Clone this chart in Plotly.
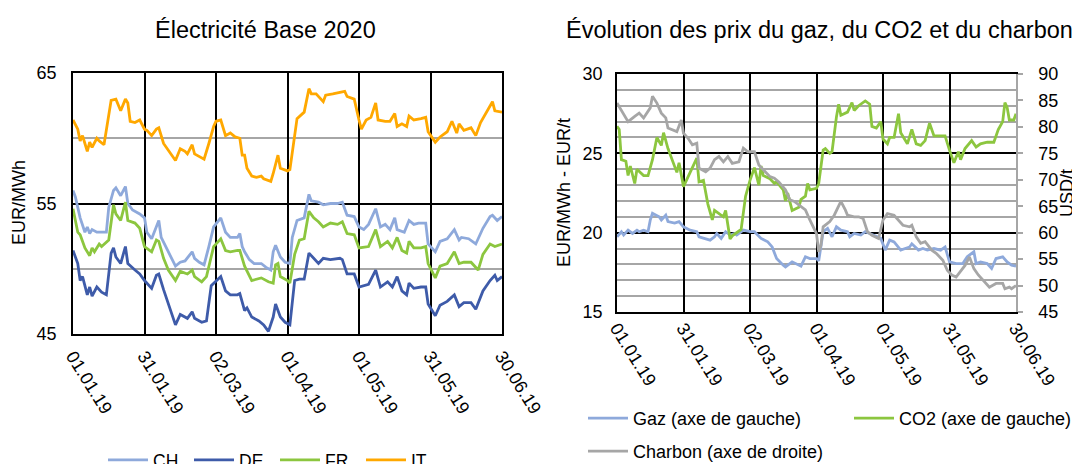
import pandas as pd
import plotly.graph_objects as go

START = pd.Timestamp("2019-01-01")

# ---------------- Left chart: Électricité Base 2020 (EUR/MWh) ----------------
IT_days = [0, 2, 3, 4, 5, 6, 7, 8, 10, 11, 13, 15, 16, 18, 20, 22, 23, 24, 26, 28, 30, 31, 33, 35, 36, 38, 40, 43, 45, 47, 48, 50, 51, 53, 55, 57, 59, 60, 62, 64, 66, 68, 70, 71, 72, 73, 75, 77, 79, 80, 83, 84, 86, 87, 90, 91, 93, 94, 97, 99, 100, 102, 105, 106, 109, 112, 114, 115, 118, 120, 121, 123, 125, 127, 128, 131, 133, 135, 136, 138, 140, 141, 143, 146, 148, 149, 152, 154, 157, 159, 161, 162, 164, 167, 169, 171, 174, 176, 177, 180]
IT_vals = [61.4, 60.7, 59.8, 60.2, 59.6, 59.0, 59.7, 59.3, 60.0, 59.8, 59.5, 61.6, 62.9, 63.0, 62.1, 63.0, 62.7, 61.3, 61.2, 61.4, 60.7, 60.6, 60.2, 60.7, 60.8, 59.6, 59.1, 58.3, 59.2, 59.0, 58.8, 59.5, 58.8, 58.6, 58.4, 59.6, 60.9, 61.3, 61.4, 60.2, 60.4, 60.1, 60.0, 58.7, 58.7, 57.7, 57.1, 57.0, 57.1, 56.9, 56.7, 57.3, 58.7, 57.7, 57.5, 57.6, 60.1, 61.5, 62.0, 63.8, 63.4, 63.4, 62.8, 63.3, 63.4, 63.5, 63.6, 63.2, 63.0, 61.4, 60.7, 61.4, 61.6, 62.7, 61.4, 61.3, 61.3, 61.9, 60.9, 61.1, 60.9, 61.7, 61.4, 61.5, 61.6, 60.5, 59.7, 60.1, 60.5, 61.3, 60.4, 61.1, 60.6, 60.8, 60.2, 61.2, 62.1, 62.8, 62.1, 62.0]

CH_days = [0, 1, 3, 5, 6, 7, 8, 10, 12, 14, 15, 17, 18, 20, 22, 23, 25, 28, 30, 31, 33, 36, 37, 39, 41, 43, 45, 47, 50, 51, 53, 55, 57, 59, 62, 64, 66, 69, 70, 71, 72, 74, 76, 79, 81, 83, 84, 85, 87, 89, 91, 92, 94, 97, 99, 100, 103, 105, 108, 111, 113, 115, 118, 120, 122, 124, 127, 129, 131, 133, 135, 136, 139, 141, 143, 145, 148, 149, 152, 154, 157, 160, 162, 163, 166, 169, 172, 175, 176, 178, 180]
CH_vals = [56.0, 55.5, 53.9, 52.8, 53.2, 52.7, 53.0, 52.8, 52.8, 52.8, 54.7, 56.0, 56.2, 55.6, 56.3, 55.0, 54.5, 54.2, 53.9, 52.8, 52.3, 53.7, 52.4, 51.7, 50.9, 50.2, 50.5, 50.6, 51.3, 50.8, 50.5, 50.3, 51.7, 53.2, 53.9, 52.8, 52.4, 52.4, 52.7, 51.7, 51.3, 50.7, 50.4, 50.4, 50.1, 49.9, 51.3, 51.8, 50.9, 50.5, 50.4, 52.4, 53.7, 53.9, 55.7, 55.2, 55.1, 54.9, 55.0, 55.0, 55.1, 54.1, 54.0, 53.2, 53.0, 53.4, 54.6, 53.2, 53.4, 53.0, 53.9, 53.0, 52.8, 53.7, 53.4, 53.5, 53.5, 51.9, 51.3, 52.1, 52.3, 53.0, 52.2, 52.4, 52.3, 51.9, 53.1, 54.0, 54.1, 53.7, 54.0]

FR_days = [0, 2, 3, 5, 7, 8, 9, 11, 12, 15, 17, 18, 20, 22, 23, 26, 28, 30, 33, 35, 36, 38, 40, 43, 45, 48, 50, 51, 54, 56, 59, 62, 64, 66, 69, 70, 72, 73, 75, 79, 82, 84, 85, 86, 87, 90, 91, 93, 95, 97, 99, 101, 103, 105, 108, 111, 113, 115, 118, 120, 124, 127, 129, 132, 134, 136, 138, 140, 141, 143, 146, 148, 149, 152, 154, 157, 160, 162, 164, 167, 170, 172, 175, 177, 180]
FR_vals = [54.6, 52.8, 52.6, 51.6, 51.0, 51.6, 51.3, 51.9, 51.7, 52.2, 54.9, 54.2, 53.7, 55.1, 53.7, 53.5, 53.1, 51.7, 51.3, 52.2, 52.1, 50.8, 49.9, 49.1, 49.8, 49.6, 49.9, 49.4, 49.0, 49.4, 51.7, 52.3, 51.4, 51.3, 51.4, 51.4, 50.2, 49.8, 49.1, 49.3, 49.0, 48.9, 50.3, 50.4, 49.4, 49.1, 48.9, 51.1, 52.2, 52.3, 54.4, 53.9, 53.6, 53.2, 53.5, 53.4, 53.6, 52.7, 52.6, 51.6, 51.7, 53.0, 51.7, 52.1, 51.6, 52.4, 51.4, 51.2, 52.1, 51.6, 51.6, 51.7, 50.4, 49.3, 50.2, 50.4, 51.3, 50.4, 50.5, 50.5, 49.9, 51.1, 51.9, 51.7, 51.9]

DE_days = [0, 2, 3, 4, 6, 7, 8, 10, 12, 14, 16, 17, 18, 20, 22, 23, 26, 28, 30, 33, 35, 36, 38, 40, 41, 43, 45, 48, 50, 51, 54, 56, 58, 62, 64, 66, 69, 70, 72, 73, 75, 78, 80, 82, 84, 85, 87, 89, 91, 93, 95, 97, 99, 101, 103, 105, 108, 112, 113, 115, 118, 120, 124, 127, 129, 132, 134, 136, 138, 140, 141, 143, 146, 148, 149, 152, 154, 157, 160, 162, 164, 167, 169, 172, 175, 177, 178, 180]
DE_vals = [51.4, 50.4, 49.1, 49.4, 48.0, 48.6, 47.9, 48.6, 48.2, 48.0, 51.2, 51.6, 50.9, 50.4, 51.7, 50.4, 49.9, 49.6, 49.1, 48.5, 49.5, 49.6, 48.4, 47.3, 46.7, 45.7, 46.5, 46.2, 46.7, 46.2, 45.9, 46.0, 48.7, 49.4, 48.3, 48.0, 48.0, 48.1, 46.8, 47.0, 46.3, 46.0, 45.7, 45.2, 46.3, 47.3, 46.3, 45.9, 45.7, 49.1, 49.2, 49.2, 51.2, 50.8, 50.4, 50.8, 50.7, 50.8, 50.7, 49.6, 49.6, 48.6, 48.8, 49.9, 48.6, 49.0, 48.6, 49.4, 48.3, 48.0, 48.9, 48.5, 48.6, 48.6, 47.3, 46.4, 47.2, 47.5, 48.0, 47.1, 47.4, 47.4, 46.9, 48.3, 49.1, 49.5, 49.1, 49.4]

# ---------------- Right chart: gaz, CO2 (left axis), charbon (right axis) ----------------
GAZ_days = [0, 2, 3, 5, 7, 9, 10, 12, 14, 15, 16, 19, 20, 22, 23, 26, 28, 30, 33, 36, 37, 40, 42, 44, 45, 47, 49, 51, 53, 54, 57, 60, 62, 65, 68, 70, 72, 75, 76, 79, 81, 83, 85, 87, 90, 91, 93, 95, 97, 99, 101, 104, 105, 107, 110, 112, 114, 117, 119, 121, 123, 125, 128, 132, 133, 136, 138, 140, 143, 146, 148, 150, 153, 156, 158, 161, 162, 164, 167, 169, 171, 174, 176, 178, 180]
GAZ_vals = [19.74, 20.06, 19.85, 20.16, 19.95, 20.16, 20.06, 20.16, 20.06, 20.79, 21.22, 21.0, 20.8, 21.1, 20.7, 20.6, 20.7, 20.37, 20.16, 20.06, 19.74, 19.64, 19.53, 19.74, 19.95, 19.64, 20.06, 19.85, 19.95, 19.85, 20.16, 20.06, 20.06, 19.64, 19.42, 19.1, 18.37, 17.95, 17.84, 18.16, 18.05, 17.89, 18.48, 18.37, 18.37, 18.22, 20.06, 20.27, 19.74, 20.37, 20.16, 20.06, 19.74, 19.95, 19.85, 20.06, 19.95, 19.74, 19.64, 18.9, 19.53, 19.42, 18.9, 19.1, 19.3, 18.9, 19.0, 18.9, 19.0, 18.9, 19.1, 18.16, 18.05, 18.05, 18.48, 18.8, 18.05, 18.16, 18.05, 17.74, 18.37, 18.48, 18.16, 17.95, 17.89]

CO2_days = [0, 1, 2, 4, 5, 6, 8, 9, 12, 14, 16, 18, 20, 21, 23, 25, 27, 28, 30, 32, 34, 36, 37, 39, 41, 43, 44, 46, 48, 49, 51, 52, 55, 56, 58, 60, 62, 64, 65, 66, 69, 71, 72, 75, 76, 77, 79, 82, 83, 85, 86, 87, 90, 91, 93, 94, 96, 97, 99, 100, 101, 104, 106, 107, 109, 112, 114, 115, 117, 119, 120, 122, 123, 125, 127, 128, 131, 133, 135, 137, 139, 141, 143, 145, 148, 150, 152, 154, 155, 157, 160, 162, 164, 167, 170, 172, 174, 175, 176, 177, 179, 180]
CO2_vals = [26.7, 26.5, 24.6, 24.5, 23.6, 24.2, 23.1, 24.0, 23.6, 23.6, 24.6, 26.0, 25.5, 26.3, 25.3, 24.6, 23.8, 24.4, 22.9, 23.5, 24.1, 24.7, 23.2, 23.3, 21.8, 20.8, 21.4, 21.2, 21.0, 21.4, 19.6, 19.8, 20.1, 20.2, 22.3, 23.3, 24.1, 23.0, 24.2, 23.6, 23.4, 23.1, 23.2, 22.7, 22.0, 22.5, 21.4, 21.6, 22.1, 22.3, 23.1, 22.7, 22.8, 23.1, 25.2, 25.3, 25.0, 25.1, 27.3, 28.1, 27.4, 27.6, 28.2, 27.7, 28.0, 28.3, 28.1, 26.7, 26.6, 27.0, 25.9, 25.6, 26.0, 26.0, 27.5, 26.3, 25.6, 26.5, 25.6, 25.5, 25.8, 26.9, 26.1, 26.1, 26.1, 25.2, 24.4, 25.1, 24.6, 25.3, 25.8, 25.4, 25.6, 25.7, 25.7, 26.5, 27.0, 28.2, 27.9, 27.1, 27.1, 27.5]

CHARBON_days = [0, 2, 5, 8, 10, 12, 15, 16, 18, 20, 22, 23, 25, 27, 29, 30, 32, 34, 36, 37, 40, 42, 44, 46, 48, 50, 52, 55, 57, 59, 62, 64, 66, 69, 71, 73, 76, 78, 80, 83, 85, 87, 90, 91, 92, 93, 96, 98, 101, 103, 104, 107, 109, 111, 113, 115, 118, 120, 122, 125, 127, 129, 132, 133, 135, 137, 139, 142, 144, 147, 149, 151, 153, 155, 157, 159, 161, 163, 165, 168, 171, 174, 175, 177, 178, 180]
CHARBON_vals = [84.5, 83.2, 81.0, 82.0, 82.6, 81.7, 83.6, 85.8, 84.5, 82.6, 81.7, 79.8, 79.4, 79.1, 81.3, 78.8, 77.9, 76.6, 76.9, 72.2, 71.5, 72.2, 73.8, 74.4, 73.4, 74.4, 73.1, 73.4, 76.0, 75.3, 75.3, 72.8, 71.9, 70.6, 70.3, 69.6, 68.1, 66.2, 65.9, 64.9, 64.3, 62.4, 59.8, 56.4, 57.6, 61.1, 62.1, 63.3, 65.9, 64.3, 63.3, 63.0, 63.0, 62.7, 60.2, 59.5, 58.9, 62.4, 63.6, 63.3, 62.4, 61.4, 61.1, 61.4, 59.2, 58.0, 58.3, 56.7, 56.1, 54.8, 52.9, 52.0, 51.6, 52.6, 53.8, 55.4, 53.2, 52.0, 51.0, 49.7, 50.4, 50.4, 49.4, 49.7, 49.4, 50.0]

LEFT_TITLE = "Électricité Base 2020"
RIGHT_TITLE = "Évolution des prix du gaz, du CO2 et du charbon"


def to_dates(days):
    return START + pd.to_timedelta(days, unit="D")


FONT = "Liberation Sans, Arial, sans-serif"
# The page body has an 8px margin; the figure is made a little larger than the
# window and every position is given in window pixels minus that offset.
OFF = 8
W, H = 1080, 480
LW = 2.8

fig = go.Figure()

left_series = [("CH", CH_days, CH_vals, "#8EA9DB"),
               ("DE", DE_days, DE_vals, "#3E5BA9"),
               ("FR", FR_days, FR_vals, "#8CC63F"),
               ("IT", IT_days, IT_vals, "#FFA800")]
for name, d, v, c in left_series:
    fig.add_trace(go.Scatter(x=to_dates(d), y=v, name=name, mode="lines",
                             line=dict(color=c, width=LW), xaxis="x", yaxis="y",
                             legend="legend"))

fig.add_trace(go.Scatter(x=to_dates(GAZ_days), y=GAZ_vals, name="Gaz (axe de gauche)",
                         mode="lines", line=dict(color="#8EA9DB", width=LW),
                         xaxis="x2", yaxis="y2", legend="legend2"))
fig.add_trace(go.Scatter(x=to_dates(CO2_days), y=CO2_vals, name="CO2 (axe de gauche)",
                         mode="lines", line=dict(color="#8CC63F", width=LW),
                         xaxis="x2", yaxis="y2", legend="legend4"))
fig.add_trace(go.Scatter(x=to_dates(CHARBON_days), y=CHARBON_vals, name="Charbon (axe de droite)",
                         mode="lines", line=dict(color="#A6A6A6", width=LW),
                         xaxis="x2", yaxis="y3", legend="legend3"))

DAY_MS = 86400000
GRID_GRAY = "#A6A6A6"


def xaxis_common(domain, anchor, standoff):
    return dict(domain=domain, anchor=anchor, type="date",
                range=["2019-01-01", "2019-06-30"],
                tick0="2019-01-01", dtick=30 * DAY_MS, tickformat="%d.%m.%y",
                tickangle=58, showgrid=True, gridcolor="black", gridwidth=1.5,
                showline=True, linecolor="black", linewidth=1.5, mirror=True,
                ticks="", ticklabelstandoff=standoff,
                tickfont=dict(family=FONT, size=18, color="black"),
                automargin=False, zeroline=False, fixedrange=True)


def px_x(p):
    return (p - OFF) / W


def px_y(p):
    return 1 - (p - OFF) / H


def legend_at(x, y, size):
    return dict(orientation="h", x=px_x(x), y=px_y(y), xanchor="left", yanchor="top",
                font=dict(family=FONT, size=size), bgcolor="rgba(0,0,0,0)",
                itemwidth=40, itemclick=False, itemdoubleclick=False)


left_legend = legend_at(103, 442, 17.5)
left_legend.update(entrywidth=31, entrywidthmode="pixels")

fig.update_layout(
    width=W, height=H,
    margin=dict(l=0, r=0, t=0, b=0, autoexpand=False),
    paper_bgcolor="white", plot_bgcolor="white",
    font=dict(family=FONT, size=17, color="black"),
    xaxis=xaxis_common([px_x(73), px_x(502)], "y", 3),
    yaxis=dict(domain=[px_y(334), px_y(73)], anchor="x", range=[45, 65],
               tick0=45, dtick=10, showgrid=True, gridcolor="black", gridwidth=1.5,
               minor=dict(dtick=5, tick0=45, showgrid=True, gridcolor=GRID_GRAY, gridwidth=1.5),
               showline=True, linecolor="black", linewidth=1.5, mirror=True,
               ticks="", ticklabelstandoff=11,
               tickfont=dict(family=FONT, size=18, color="black"),
               automargin=False, zeroline=False, fixedrange=True),
    xaxis2=xaxis_common([px_x(617), px_x(1016)], "y2", -3),
    yaxis2=dict(domain=[px_y(312), px_y(74)], anchor="x2", range=[15, 30],
                tick0=15, dtick=5, showgrid=True, gridcolor="black", gridwidth=1.5,
                minor=dict(dtick=1, tick0=15, showgrid=True, gridcolor=GRID_GRAY, gridwidth=1.5),
                showline=True, linecolor="black", linewidth=1.5,
                ticks="", ticklabelstandoff=9,
                tickfont=dict(family=FONT, size=18, color="black"),
                automargin=False, zeroline=False, fixedrange=True),
    yaxis3=dict(overlaying="y2", side="right", anchor="x2", range=[45, 90],
                tick0=45, dtick=5, showgrid=False,
                showline=True, linecolor=GRID_GRAY, linewidth=1.5,
                ticks="outside", ticklen=5, tickcolor=GRID_GRAY, tickwidth=1.5,
                ticklabelstandoff=12,
                tickfont=dict(family=FONT, size=18, color="black"),
                automargin=False, zeroline=False, fixedrange=True),
    legend=left_legend,
    legend2=legend_at(583, 400, 18),
    legend4=legend_at(849, 400, 18),
    legend3=legend_at(583, 433, 18),
    annotations=[
        dict(text=LEFT_TITLE, x=px_x(265), y=px_y(30), xref="paper", yref="paper",
             xanchor="center", yanchor="middle", showarrow=False,
             font=dict(family=FONT, size=23.5, color="black")),
        dict(text=RIGHT_TITLE, x=px_x(564), y=px_y(30), xref="paper", yref="paper",
             xanchor="left", yanchor="middle", showarrow=False,
             font=dict(family=FONT, size=23.5, color="black")),
        dict(text="EUR/MWh", x=px_x(19), y=px_y(203), xref="paper", yref="paper",
             xanchor="center", yanchor="middle", showarrow=False, textangle=-90,
             font=dict(family=FONT, size=18, color="black")),
        dict(text="EUR/MWh - EUR/t", x=px_x(564), y=px_y(193), xref="paper", yref="paper",
             xanchor="center", yanchor="middle", showarrow=False, textangle=-90,
             font=dict(family=FONT, size=18, color="black")),
        dict(text="USD/t", x=px_x(1067), y=px_y(193), xref="paper", yref="paper",
             xanchor="center", yanchor="middle", showarrow=False, textangle=-90,
             font=dict(family=FONT, size=18, color="black")),
    ],
)

fig.write_html("out.html")
